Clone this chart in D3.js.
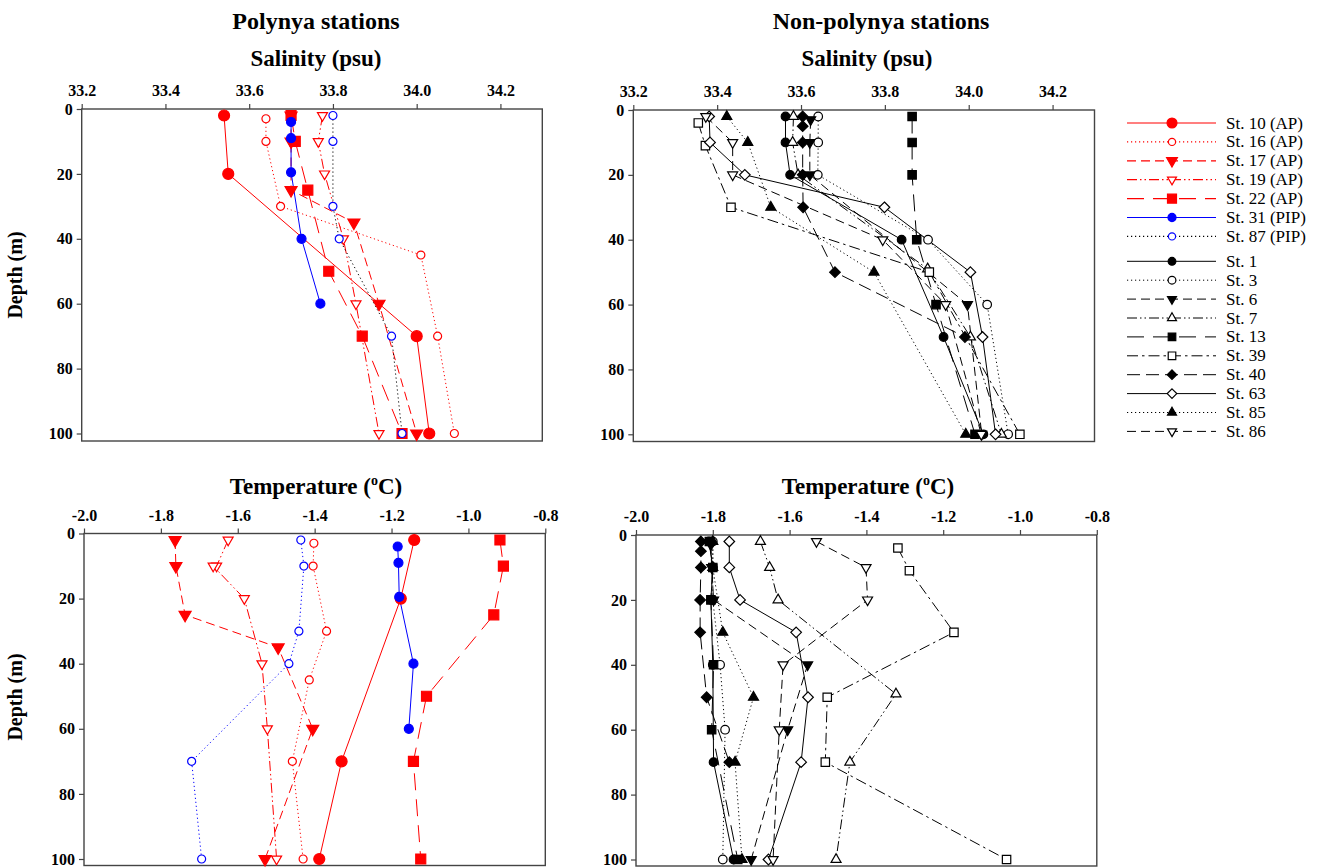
<!DOCTYPE html>
<html lang="en">
<head>
<meta charset="UTF-8">
<script src="https://d3js.org/d3.v7.min.js"></script>
<style>
  body { margin: 0; background: #fff; }
  svg { font-family: "Liberation Serif", "Times New Roman", serif; }
  .axis-title { font-size: 23px; font-weight: bold; fill: #000; }
  .panel-title { font-size: 24px; font-weight: bold; fill: #000; }
  .legend-text { font-size: 17px; fill: #000; }
</style>
</head>
<body>
<div id="chart"></div>
<script>
// ---- tick labels ----
const salTicks = [33.2, 33.4, 33.6, 33.8, 34.0, 34.2];
const tempTicks = [-2.0, -1.8, -1.6, -1.4, -1.2, -1.0, -0.8];
const depthTicks = [0, 20, 40, 60, 80, 100];

// ---- polynya stations ----
const polNames = ["St. 10 (AP)", "St. 16 (AP)", "St. 17 (AP)", "St. 19 (AP)", "St. 22 (AP)", "St. 31 (PIP)", "St. 87 (PIP)"];
const polSalDepth = [
  [2, 20, 70, 100],
  [3, 10, 30, 45, 70, 100],
  [2, 10, 25, 35, 60, 100],
  [2, 10, 20, 40, 60, 100],
  [2, 10, 25, 50, 70, 100],
  [4, 9, 19.5, 40, 60],
  [2, 10, 30, 40, 70, 100]
];
const polSal = [
  [33.54, 33.55, 34.00, 34.03],
  [33.64, 33.64, 33.675, 34.01, 34.05, 34.09],
  [33.70, 33.70, 33.70, 33.85, 33.91, 34.00],
  [33.775, 33.765, 33.78, 33.825, 33.855, 33.91],
  [33.70, 33.71, 33.74, 33.79, 33.87, 33.965],
  [33.70, 33.70, 33.70, 33.725, 33.77],
  [33.80, 33.80, 33.80, 33.815, 33.94, 33.965]
];
const polTempDepth = [
  [2, 20, 70, 100],
  [3, 10, 30, 45, 70, 100],
  [2, 10, 25, 35, 60, 100],
  [2, 10, 10, 20, 40, 60, 100],
  [2, 10, 25, 50, 70, 100],
  [4, 9, 19.5, 40, 60],
  [2, 10, 30, 40, 70, 100]
];
const polTemp = [
  [-1.141, -1.176, -1.330, -1.388],
  [-1.402, -1.404, -1.369, -1.414, -1.458, -1.430],
  [-1.763, -1.761, -1.737, -1.495, -1.405, -1.529],
  [-1.625, -1.655, -1.664, -1.583, -1.537, -1.523, -1.499],
  [-0.918, -0.909, -0.934, -1.109, -1.143, -1.124],
  [-1.184, -1.182, -1.180, -1.143, -1.155],
  [-1.436, -1.428, -1.441, -1.467, -1.720, -1.694]
];

// ---- non-polynya stations ----
const nonNames = ["St. 1", "St. 3", "St. 6", "St. 7", "St. 13", "St. 39", "St. 40", "St. 63", "St. 85", "St. 86"];
const nonSalDepth = [
  [2, 10, 20, 40, 70, 100],
  [2, 10, 20, 40, 60, 100],
  [3, 10, 20, 60, 100],
  [2, 10, 20, 49, 70, 100],
  [2, 10, 20, 40, 60, 100],
  [4, 11, 30, 50, 100],
  [2, 5, 10, 20, 30, 50, 70],
  [2, 10, 20, 30, 50, 70, 100],
  [2, 10, 30, 50, 100],
  [2, 10, 20, 40, 60, 100]
];
const nonSal = [
  [33.563, 33.563, 33.574, 33.84, 33.94, 34.035],
  [33.641, 33.641, 33.640, 33.903, 34.044, 34.094],
  [33.623, 33.621, 33.621, 33.997, 34.031],
  [33.582, 33.58, 33.593, 33.902, 34.004, 34.078],
  [33.865, 33.865, 33.865, 33.876, 33.922, 34.015],
  [33.355, 33.372, 33.433, 33.906, 34.122],
  [33.604, 33.604, 33.604, 33.604, 33.605, 33.681, 33.991],
  [33.381, 33.383, 33.466, 33.799, 34.004, 34.033, 34.064],
  [33.423, 33.473, 33.528, 33.774, 33.993],
  [33.373, 33.437, 33.437, 33.795, 33.945, 34.03]
];
const nonTempDepth = [
  [2, 10, 20, 40, 70, 100],
  [2, 10, 20, 40, 60, 100],
  [3, 10, 20, 40, 60, 100],
  [2, 10, 20, 49, 70, 100],
  [2, 10, 20, 40, 60, 100],
  [4, 11, 30, 50, 70, 100],
  [2, 5, 10, 20, 30, 50, 70],
  [2, 10, 20, 30, 50, 70, 100],
  [2, 10, 30, 50, 70, 100],
  [2, 10, 20, 40, 60, 100]
];
const nonTemp = [
  [-1.81, -1.80, -1.805, -1.80, -1.798, -1.746],
  [-1.80, -1.80, -1.80, -1.781, -1.768, -1.774],
  [-1.805, -1.803, -1.798, -1.553, -1.605, -1.70],
  [-1.676, -1.652, -1.630, -1.323, -1.443, -1.479],
  [-1.809, -1.80, -1.805, -1.798, -1.803, -1.735],
  [-1.318, -1.288, -1.172, -1.502, -1.507, -1.035],
  [-1.831, -1.831, -1.831, -1.833, -1.833, -1.816, -1.757],
  [-1.757, -1.757, -1.729, -1.583, -1.552, -1.570, -1.655],
  [-1.80, -1.80, -1.774, -1.694, -1.742, -1.724],
  [-1.530, -1.401, -1.397, -1.617, -1.627, -1.643]
];

// ---- styles ----
const DOT = "1.2,2.8", DASH = "9,5", DDD = "10,3,1.5,3,1.5,3", LONG = "17,9", DASHDOT = "11,4,2.5,4", LDASH = "13,6";
const polColor = ["red", "red", "red", "red", "red", "blue", "blue"];
const polLineColor = ["red", "red", "red", "red", "red", "blue", "black"];
const polDash = [null, DOT, DASH, DDD, LONG, null, DOT];
const polSymbol = ["circle", "circle", "down", "down", "square", "circle", "circle"];
const polFilled = [true, false, true, false, true, true, false];
const polSize = [5.5, 4, 6, 5, 5, 4.5, 4];

const nonDash = [null, DOT, DASH, DDD, LONG, DASHDOT, LDASH, null, DOT, DASH];
const nonSymbol = ["circle", "circle", "down", "up", "square", "square", "diamond", "diamond", "up", "down"];
const nonFilled = [true, false, true, false, true, false, true, false, true, false];
const nonSize = [4.3, 4.3, 5, 5, 4.2, 4.2, 5.3, 5.3, 5, 5];

const SERIF = '"Liberation Serif", "Times New Roman", serif';
const svg = d3.select("#chart").append("svg").attr("width", 1320).attr("height", 868);

function symbolPath(type, s) {
  if (type === "circle") {
    const p = d3.path();
    p.arc(0, 0, s, 0, 2 * Math.PI);
    p.closePath();
    return p.toString();
  }
  if (type === "square") return `M${-s},${-s}H${s}V${s}H${-s}Z`;
  if (type === "diamond") return `M0,${-s}L${s},0L0,${s}L${-s},0Z`;
  const h = s * Math.sqrt(3);
  if (type === "up") return `M0,${-2 * h / 3}L${s},${h / 3}L${-s},${h / 3}Z`;
  return `M0,${2 * h / 3}L${s},${-h / 3}L${-s},${-h / 3}Z`;
}

function styleTicks(sel) {
  sel.select(".domain").remove();
  sel.selectAll("line").attr("stroke", "#444").attr("stroke-width", 1.2);
  sel.selectAll("text")
    .style("font-family", SERIF).style("font-size", "16px").style("font-weight", "bold").attr("fill", "#000");
}

function drawPanel(p) {
  const x = d3.scaleLinear().domain(p.xDomain).range([p.left, p.right]);
  const y = d3.scaleLinear().domain([0, 100]).range([p.top, p.y100]);
  const g = svg.append("g");

  // frame
  g.append("rect").attr("x", p.left).attr("y", p.top).attr("width", p.right - p.left)
    .attr("height", p.bottom - p.top).attr("fill", "none").attr("stroke", "#444").attr("stroke-width", 1.4);

  g.append("g").attr("transform", `translate(0,${p.top})`)
    .call(d3.axisTop(x).tickValues(p.xTicks).tickSize(5).tickSizeOuter(0).tickPadding(8).tickFormat(d => d.toFixed(1)))
    .call(styleTicks);

  g.append("g").attr("transform", `translate(${p.left},0)`)
    .call(d3.axisLeft(y).tickValues(depthTicks).tickSize(5).tickPadding(4))
    .call(styleTicks);

  // series
  p.depths.forEach((dep, i) => {
    const pts = dep.map((d, j) => [x(p.values[i][j]), y(d)]);
    g.append("path").attr("d", d3.line()(pts)).attr("fill", "none")
      .attr("stroke", p.lineColor[i]).attr("stroke-width", 1)
      .attr("stroke-dasharray", p.dash[i]);
  });
  p.depths.forEach((dep, i) => {
    g.selectAll(null).data(dep.map((d, j) => [x(p.values[i][j]), y(d)])).enter()
      .append("path")
      .attr("transform", d => `translate(${d[0]},${d[1]})`)
      .attr("d", symbolPath(p.symbol[i], p.size[i]))
      .attr("fill", p.filled[i] ? p.color[i] : "white")
      .attr("stroke", p.color[i]).attr("stroke-width", 1.2);
  });
}

const blacks = nonNames.map(() => "black");

drawPanel({ left: 81.7, right: 542.3, top: 109, y100: 433.5, bottom: 441, xDomain: [33.2, 34.3], xTicks: salTicks,
  depths: polSalDepth, values: polSal, color: polColor, lineColor: polLineColor, dash: polDash,
  symbol: polSymbol, filled: polFilled, size: polSize });
drawPanel({ left: 633.3, right: 1094.5, top: 110, y100: 434.3, bottom: 441.5, xDomain: [33.2, 34.3], xTicks: salTicks,
  depths: nonSalDepth, values: nonSal, color: blacks, lineColor: blacks, dash: nonDash,
  symbol: nonSymbol, filled: nonFilled, size: nonSize });
drawPanel({ left: 84, right: 545.3, top: 533.5, y100: 859, bottom: 865.5, xDomain: [-2.0, -0.8], xTicks: tempTicks,
  depths: polTempDepth, values: polTemp, color: polColor, lineColor: polColor, dash: polDash,
  symbol: polSymbol, filled: polFilled, size: polSize });
drawPanel({ left: 636, right: 1096.8, top: 535, y100: 859.5, bottom: 866, xDomain: [-2.0, -0.8], xTicks: tempTicks,
  depths: nonTempDepth, values: nonTemp, color: blacks, lineColor: blacks, dash: nonDash,
  symbol: nonSymbol, filled: nonFilled, size: nonSize });

// titles
svg.append("text").attr("class", "panel-title").attr("x", 316).attr("y", 29).attr("text-anchor", "middle").text("Polynya stations");
svg.append("text").attr("class", "panel-title").attr("x", 881).attr("y", 29).attr("text-anchor", "middle").text("Non-polynya stations");
svg.append("text").attr("class", "axis-title").attr("x", 316).attr("y", 66).attr("text-anchor", "middle").text("Salinity (psu)");
svg.append("text").attr("class", "axis-title").attr("x", 867).attr("y", 66).attr("text-anchor", "middle").text("Salinity (psu)");

[[316, 494], [868, 494]].forEach(([cx, cy]) => {
  const t = svg.append("text").attr("class", "axis-title").attr("x", cx).attr("y", cy).attr("text-anchor", "middle");
  t.append("tspan").text("Temperature (");
  t.append("tspan").attr("font-size", 14).attr("dy", -9).text("o");
  t.append("tspan").attr("dy", 9).text("C)");
});

[[22, 275], [22, 697]].forEach(([cx, cy]) => {
  svg.append("text").attr("class", "axis-title").style("font-size", "20px")
    .attr("transform", `translate(${cx},${cy}) rotate(-90)`).attr("text-anchor", "middle").text("Depth (m)");
});

// legend
const lx0 = 1127, lx1 = 1216, lmx = 1172, ltx = 1226;
polNames.forEach((n, i) => {
  const yy = 123 + i * 18.9;
  svg.append("line").attr("x1", lx0).attr("x2", lx1).attr("y1", yy).attr("y2", yy)
    .attr("stroke", polLineColor[i]).attr("stroke-width", 1.2).attr("stroke-dasharray", polDash[i]);
  svg.append("path").attr("transform", `translate(${lmx},${yy})`).attr("d", symbolPath(polSymbol[i], polSize[i] * 0.9))
    .attr("fill", polFilled[i] ? polColor[i] : "white").attr("stroke", polColor[i]).attr("stroke-width", 1.2);
  svg.append("text").attr("class", "legend-text").attr("x", ltx).attr("y", yy + 5.5).text(n);
});
nonNames.forEach((n, i) => {
  const yy = 261.3 + i * 18.9;
  svg.append("line").attr("x1", lx0).attr("x2", lx1).attr("y1", yy).attr("y2", yy)
    .attr("stroke", "black").attr("stroke-width", 1).attr("stroke-dasharray", nonDash[i]);
  svg.append("path").attr("transform", `translate(${lmx},${yy})`).attr("d", symbolPath(nonSymbol[i], nonSize[i] * 0.9))
    .attr("fill", nonFilled[i] ? "black" : "white").attr("stroke", "black").attr("stroke-width", 1.2);
  svg.append("text").attr("class", "legend-text").attr("x", ltx).attr("y", yy + 5.5).text(n);
});
</script>
</body>
</html>
